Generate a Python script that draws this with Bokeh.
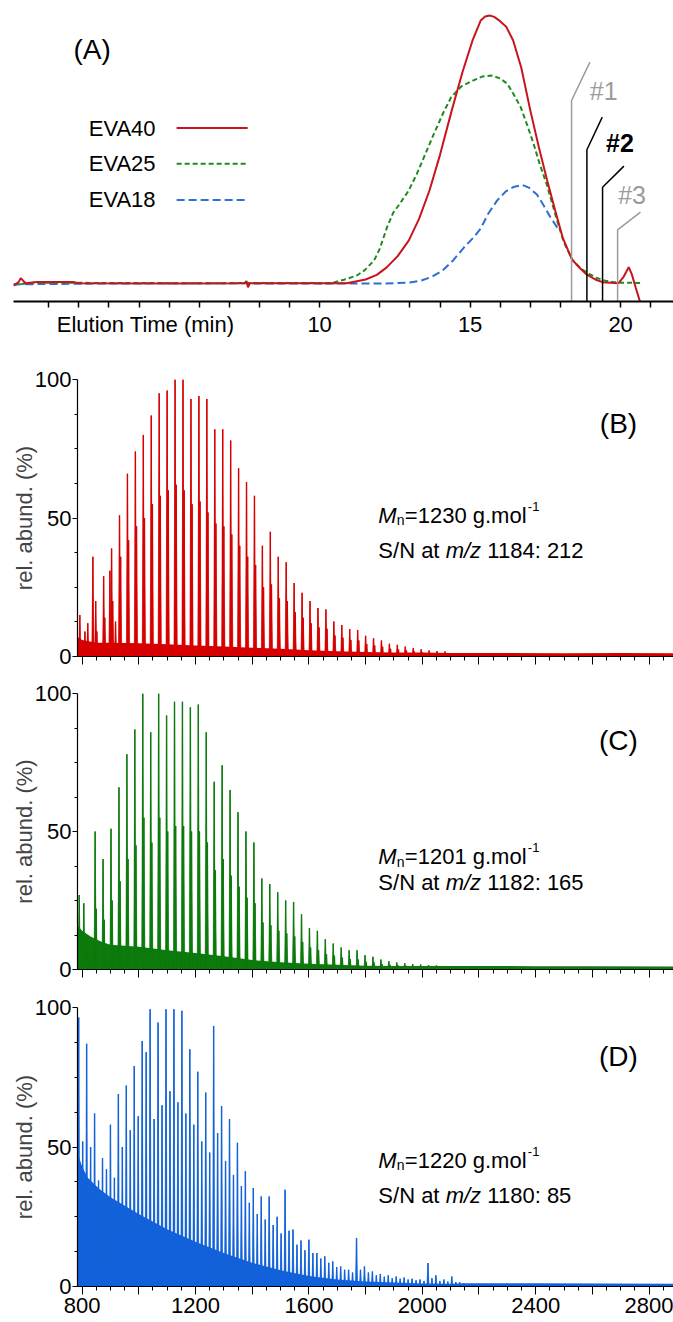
from bokeh.plotting import figure
from bokeh.models import Range1d, FixedTicker, Label
from bokeh.embed import file_html
from bokeh.resources import INLINE

FONT = "Liberation Sans"
RED_LINE, GREEN_LINE, BLUE_LINE = "#C8141C", "#1F8A1F", "#2C6FD4"
RED_MS, GREEN_MS, BLUE_MS = "#D60000", "#0C7A0C", "#1262DA"
GRAY = "#9B9B9B"

# ---------------- (A) SEC chromatograms ----------------
eva40_time = [-0.17, 0.0, 0.07, 0.23, 0.6, 1.8, 2.0, 5.0, 7.5, 7.57, 7.62, 7.68, 10.9, 11.53, 11.9,
              12.23, 12.6, 12.96, 13.3, 13.65, 14.0, 14.39, 14.75, 15.08, 15.35, 15.5, 15.65, 15.8,
              15.95, 16.2, 16.43, 16.7, 17.0, 17.28, 17.56, 17.82, 18.08, 18.38, 18.67, 18.88, 19.2,
              19.4, 19.93, 20.1, 20.27, 20.37, 20.5, 20.65]
eva40_signal = [-0.8, 0.5, 2.0, 0.1, 0.6, 0.6, 0.1, 0.0, 0.1, 0.9, -1.4, 0.1, 0.1, 1.5, 3.2,
                6.0, 10.3, 16.0, 24.0, 34.7, 48.0, 64.6, 79.0, 90.7, 98.1, 99.6, 100.0, 99.5,
                98.3, 95.8, 90.7, 80.5, 64.6, 51.0, 38.4, 27.5, 17.0, 9.0, 5.5, 3.3, 1.3,
                0.5, 0.1, 2.5, 6.1, 3.5, -1.5, -7.0]
eva25_time = [-0.17, 0.5, 3.0, 6.0, 9.0, 10.38, 10.81, 11.24, 11.5, 11.81, 12.0, 12.24, 12.45, 12.66,
              12.95, 13.23, 13.5, 13.8, 14.1, 14.37, 14.7, 15.09, 15.4, 15.71, 16.0, 16.24, 16.45,
              16.68, 16.9, 17.11, 17.3, 17.56, 17.85, 18.11, 18.4, 18.67, 18.95, 19.23, 19.5, 19.77,
              20.0, 20.65]
eva25_signal = [-0.5, 0.3, 0.2, 0.1, 0.2, 0.1, 1.4, 3.0, 5.0, 8.6, 13.0, 21.0, 26.5, 29.7,
                34.5, 40.9, 48.0, 55.9, 63.5, 69.5, 73.5, 75.7, 77.2, 77.6, 76.5, 74.5, 70.5,
                65.8, 59.0, 52.1, 45.0, 36.5, 25.0, 15.5, 8.8, 5.6, 3.6, 2.0, 1.0, 0.5,
                0.3, 0.2]
eva18_time = [-0.17, 3.0, 6.0, 9.0, 12.0, 12.5, 13.0, 13.38, 13.75, 14.09, 14.45, 14.8, 15.1, 15.35,
              15.6, 15.9, 16.2, 16.44, 16.73, 16.95, 17.22, 17.45, 17.67, 17.97]
eva18_signal = [-0.3, 0.0, 0.1, 0.0, 0.0, 0.1, 0.4, 1.1, 2.6, 4.9, 8.8, 13.5, 17.0, 20.5,
                26.0, 31.0, 34.5, 36.0, 36.8, 35.8, 33.2, 29.0, 24.7, 19.6]

# collected fractions (#1 .. #3 boundaries), min
fraction_bounds = [18.37, 18.88, 19.40, 19.90]
fraction_names = ["#1", "#2", "#3"]

legend_names = ["EVA40", "EVA25", "EVA18"]
time_ticks = [10, 15, 20]
time_axis_title = "Elution Time (min)"

# ---------------- (B)-(D) MALDI spectra ----------------
b_mz = list(range(792, 2081, 28))
b_main = [15, 12, 20, 29, 39, 51, 66, 74, 80, 87, 95, 96, 100, 100, 93, 94, 93, 82, 82, 78,
          68, 63, 58, 40, 45, 36, 34, 26.5, 23, 20, 17.5, 17, 12.6, 11.4, 9.9, 9.6, 7.5, 6.6,
          5.8, 4.6, 4.2, 3.6, 3.0, 2.6, 2.2, 2.0, 1.8]
b_sec = [6, 5, 9, 14, 20, 36, 42, 47, 50, 55, 58, 60, 62, 60, 55, 56, 52, 48, 47, 44,
         40, 36, 33, 25, 26, 21, 20, 16, 14, 12, 10.5, 10, 7.6, 6.8, 6, 5.8, 4.5, 4,
         3.5, 2.8, 2.5, 2.2, 1.8, 1.6, 1.3, 1.2, 1.1]
b_extra_mz = [810, 838, 898, 918]
b_extra_h = [9, 36, 31, 12.6]
b_noise_mz = [784, 800, 850, 900, 1000, 1100, 1200, 1300, 1400, 1500, 1600, 1700, 1800, 1900,
              2000, 2100, 2300, 2500, 2700, 2887]
b_noise_h = [7, 6, 5, 5, 4.8, 4.4, 4, 3.6, 3.2, 2.8, 2.3, 1.9, 1.6, 1.4, 1.4, 1.3, 1.3, 1.2, 1.3, 1.2]

c_mz = list(range(790, 2051, 28))
c_main = [27, 12, 50, 40, 51, 66, 78, 87, 100, 86, 100, 92, 97, 97, 95, 96, 86, 68, 74, 65,
          57, 50, 46, 33, 31, 28, 25, 24.5, 20, 15, 14, 11, 9.4, 8, 7, 7, 5.2, 4.6, 3.6, 3,
          2.5, 2.3, 2, 1.8, 1.6, 1.5]
c_sec = [14, 8, 22, 18, 25, 32, 40, 45, 55, 46, 55, 50, 52, 52, 50, 50, 46, 36, 40, 34,
         30, 26, 24, 17, 16, 14, 13, 12, 10, 8, 7, 5.5, 5, 4.3, 3.8, 3.6, 2.8, 2.5, 2, 1.7,
         1.5, 1.4, 1.3, 1.2, 1.1, 1.0]
c_extra_mz = [806]
c_extra_h = [24]
c_noise_mz = [784, 800, 830, 870, 900, 1000, 1100, 1200, 1300, 1400, 1500, 1600, 1700, 1800,
              1900, 2000, 2200, 2400, 2600, 2887]
c_noise_h = [16, 14, 12, 10, 9, 8.2, 7, 6, 4.8, 3.4, 2.6, 2.1, 1.7, 1.4, 1.3, 1.3, 1.3, 1.2, 1.2, 1.1]

d_mz = list(range(788, 2133, 28))
d_main = [96.4, 87, 62, 46, 58, 69, 72, 79, 88, 99.4, 94.6, 99.4, 99.4, 98.8, 85, 77, 69.5,
          93.4, 64.7, 60, 51.5, 41.3, 35.3, 32.3, 32.3, 25, 34.7, 20.4, 16.5, 16.8, 12, 10.8,
          9, 7.2, 6, 17.4, 7.2, 5.4, 4.5, 4, 3.6, 3.2, 2.8, 2.5, 8.4, 4, 2.5, 3.6, 1.5]
d_sec = [52, 50, 38, 42, 39, 50, 56, 61, 84, 60, 65, 70, 66, 62, 58, 52, 48, 55, 45, 40,
         36, 30, 26, 24, 22, 19, 20, 15, 13, 12, 10, 8.5, 7, 6, 5, 6, 5, 4, 3.5, 3,
         2.8, 2.5, 2.2, 2, 3, 2, 1.8, 1.6, 1.2]
d_extra_mz = []
d_extra_h = []
d_noise_mz = [784, 800, 820, 840, 860, 900, 1000, 1100, 1200, 1300, 1400, 1500, 1600, 1700,
              1800, 1900, 2000, 2100, 2150, 2400, 2887]
d_noise_h = [48, 43, 39, 37, 35, 32, 26, 20.5, 16, 12, 8.5, 5.8, 3.8, 2.5, 1.8, 1.4, 1.1, 1.0,
             1.2, 1.2, 1.0]

panel_info = [
    ("(B)", "1230", "1184", "212"),
    ("(C)", "1201", "1182", "165"),
    ("(D)", "1220", "1180", "85"),
]
mz_major = list(range(800, 2801, 200))
mz_labels = [800, 1200, 1600, 2000, 2400, 2800]


def style_axis(ax, size="22px"):
    ax.axis_line_color = "black"
    ax.major_tick_line_color = "black"
    ax.minor_tick_line_color = "black"
    ax.major_tick_in = 0
    ax.minor_tick_in = 0
    ax.major_label_text_font = FONT
    ax.major_label_text_font_size = size
    ax.major_label_text_color = "black"


def add_text(p, x, y, text, size, dx=0, dy=0, style="normal", color="black",
             align="left", baseline="alphabetic"):
    p.add_layout(Label(x=x, y=y, x_offset=dx, y_offset=dy, text=text, text_font=FONT,
                       text_font_size=f"{size}px", text_font_style=style, text_color=color,
                       text_align=align, text_baseline=baseline))


def clean(p):
    p.grid.visible = False
    p.outline_line_color = None
    p.background_fill_color = "white"
    p.border_fill_color = "white"


# ---------- panel A ----------
PX_PER_MIN = 30.1
A_W, A_H = 660, 301
t0 = -0.17
pA = figure(frame_width=A_W, frame_height=A_H, min_border_left=13, min_border_right=0,
            min_border_top=0, min_border_bottom=39,
            x_range=Range1d(t0, t0 + A_W / PX_PER_MIN), y_range=Range1d(-6.72, 105.6),
            y_axis_location=None, output_backend="svg", toolbar_location=None)
clean(pA)
xa = pA.xaxis[0]
style_axis(xa)
title_pos = 4.22
xa.ticker = FixedTicker(ticks=[title_pos] + time_ticks, minor_ticks=list(range(1, 22)))
xa.major_label_overrides = {title_pos: time_axis_title}
xa.axis_line_width = 2
xa.minor_tick_line_width = 1.5
xa.major_tick_out = 0
xa.minor_tick_out = 6
xa.major_label_standoff = 4

pA.line(eva18_time, eva18_signal, line_color=BLUE_LINE, line_width=2, line_dash="8 4")
pA.line(eva25_time, eva25_signal, line_color=GREEN_LINE, line_width=2, line_dash="5 3")
pA.line(eva40_time, eva40_signal, line_color=RED_LINE, line_width=2)

# fraction markers with leader lines
corner_v = [68.3, 49.9, 35.9, 20.0]
leader_dt = [0.61, 0.51, 0.71, 0.76]
leader_v = [82.6, 62.1, 43.8, 26.6]
frac_colors = [GRAY, "black", "black", GRAY]
pA.multi_line([[t, t, t + d] for t, d in zip(fraction_bounds, leader_dt)],
              [[-6.72, c, e] for c, e in zip(corner_v, leader_v)],
              line_color=frac_colors, line_width=1.5)
frac_lab_x = [19.44, 19.98, 20.38]
frac_lab_y = [72.0, 52.4, 33.2]
frac_lab_style = [("normal", GRAY), ("bold", "black"), ("normal", GRAY)]
for name, x, y, (st, col) in zip(fraction_names, frac_lab_x, frac_lab_y, frac_lab_style):
    add_text(pA, x, y, name, 25, style=st, color=col, align="center", baseline="middle")

# legend (text left of line sample)
leg_y = [58.0, 44.7, 31.2]
leg_style = [(RED_LINE, "solid"), (GREEN_LINE, "5 3"), (BLUE_LINE, "8 4")]
for name, y, (col, dash) in zip(legend_names, leg_y, leg_style):
    add_text(pA, 4.55, y, name, 22, align="right", baseline="middle")
    pA.line([5.25, 7.61], [y, y], line_color=col, line_width=2, line_dash=dash)

add_text(pA, 2.44, 87.3, "(A)", 28, align="center", baseline="middle")

# ---------- spectra ----------
MZ_PX = 0.2835
S_W = 596
mz0 = 783.8


def spectrum(frame_h, b_top, b_bot, show_labels):
    p = figure(frame_width=S_W, frame_height=frame_h, min_border_left=77, min_border_right=0,
               min_border_top=b_top, min_border_bottom=b_bot,
               x_range=Range1d(mz0, mz0 + S_W / MZ_PX), y_range=Range1d(0, 100),
               output_backend="svg", toolbar_location=None)
    clean(p)
    ya = p.yaxis[0]
    style_axis(ya)
    ya.ticker = FixedTicker(ticks=[0, 50, 100], minor_ticks=[12.5, 25, 37.5, 62.5, 75, 87.5])
    ya.major_tick_out = 5
    ya.minor_tick_out = 3
    ya.major_label_standoff = 1
    ya.axis_label = "rel. abund. (%)"
    ya.axis_label_text_font = FONT
    ya.axis_label_text_font_size = "22px"
    ya.axis_label_text_font_style = "normal"
    ya.axis_label_standoff = -5
    ya.axis_line_width = 1.2
    xax = p.xaxis[0]
    style_axis(xax)
    xax.ticker = FixedTicker(ticks=mz_major, minor_ticks=list(range(800, 2887, 50)))
    xax.major_tick_out = 8
    xax.minor_tick_out = 4
    xax.axis_line_width = 1.2
    if show_labels:
        xax.major_label_standoff = 3
        xax.major_label_overrides = {m: "" for m in mz_major if m not in mz_labels}
    else:
        xax.major_label_text_font_size = "8px"
        xax.major_label_standoff = 0
        xax.major_label_overrides = {m: "" for m in mz_major}
    return p


def draw_spectrum(p, mz, main, sec, sec_off, ex_mz, ex_h, n_mz, n_h, color):
    p.varea(x=n_mz, y1=[0] * len(n_mz), y2=n_h, fill_color=color)
    all_mz = list(mz) + [m + sec_off for m in mz] + list(ex_mz)
    all_h = list(main) + list(sec) + list(ex_h)
    p.patches([[m - 4, m, m + 4] for m in all_mz], [[0, h, 0] for h in all_h],
              fill_color=color, line_color=color, line_width=0.6)
    p.segment(x0=all_mz, y0=[0] * len(all_mz), x1=all_mz, y1=all_h,
              line_color=color, line_width=1.4)


def add_info(p, letter, mn, mzv, sn, letter_y, mn_y, sn_y):
    add_text(p, 2692, letter_y, letter, 28, align="center", baseline="middle")
    x = 1845
    add_text(p, x, mn_y, "M", 22, style="italic")
    add_text(p, x, mn_y, "n", 14, dx=18.5, dy=-5)
    add_text(p, x, mn_y, f"={mn} g.mol", 22, dx=26.5)
    add_text(p, x, mn_y, "-1", 13, dx=149.5, dy=9)
    add_text(p, x, sn_y, "S/N at", 22)
    add_text(p, x, sn_y, "m/z", 22, dx=67.3, style="italic")
    add_text(p, x, sn_y, f"{mzv}: {sn}", 22, dx=109.0)


pB = spectrum(277, 39, 18, False)
draw_spectrum(pB, b_mz, b_main, b_sec, 4, b_extra_mz, b_extra_h, b_noise_mz, b_noise_h, RED_MS)
add_info(pB, *panel_info[0], 84.1, 51.0, 38.4)

pC = spectrum(276, 19, 18, False)
draw_spectrum(pC, c_mz, c_main, c_sec, 4, c_extra_mz, c_extra_h, c_noise_mz, c_noise_h, GREEN_MS)
add_info(pC, *panel_info[1], 83.0, 40.9, 31.5)

pD = spectrum(279, 20, 35, True)
draw_spectrum(pD, d_mz, d_main, d_sec, 14, d_extra_mz, d_extra_h, d_noise_mz, d_noise_h, BLUE_MS)
add_info(pD, *panel_info[2], 82.5, 45.2, 32.7)

# independent roots so that the plot frames are not aligned to each other
open("out.html", "w").write(file_html([pA, pB, pC, pD], INLINE))
